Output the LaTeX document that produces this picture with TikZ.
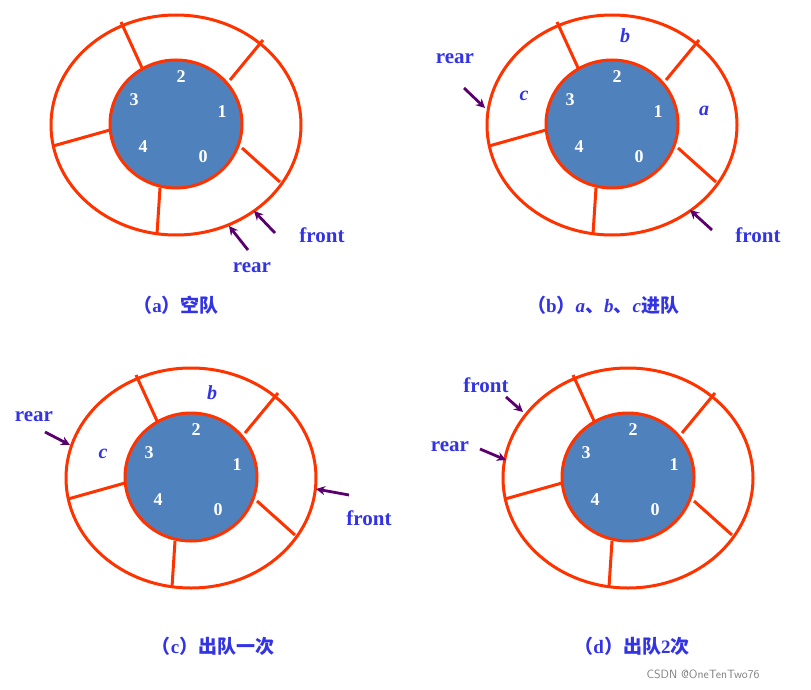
\documentclass[tikz,border=0pt]{standalone}
\usepackage{fontspec}
\setmainfont{Liberation Serif}
\newfontfamily\cjk{Noto Sans CJK SC}
\usetikzlibrary{arrows.meta}
\definecolor{ring}{RGB}{255,51,0}
\definecolor{disc}{RGB}{79,129,189}
\definecolor{txt}{RGB}{51,51,230}
\definecolor{arr}{RGB}{90,0,110}
\begin{document}
\begin{tikzpicture}[x=1pt,y=-1pt,
 ringst/.style={draw=ring,line width=3pt},
 num/.style={text=white,font=\bfseries\fontsize{18}{18}\selectfont},
 lab/.style={text=txt,font=\bfseries\itshape\fontsize{20}{20}\selectfont},
 ptr/.style={text=txt,font=\bfseries\fontsize{21}{21}\selectfont},
 captn/.style={text=txt,font=\bfseries\fontsize{19}{19}\selectfont},
 pa/.style={draw=arr,line width=2.8pt,-{Stealth[length=9pt,width=9pt]}}]
\useasboundingbox (0,0) rectangle (811,690);
\newcommand\qpanel[2]{%
 \begin{scope}[shift={(#1,#2)}]
 \draw[ringst] (176,125) ellipse [x radius=125, y radius=110];
 \draw[ringst] (121,22) -- (143,70) (230,80) -- (263,40) (242,148) -- (280,182)
   (160,188) -- (157,234) (110,130) -- (53,146);
 \draw[ringst,fill=disc] (176,124) ellipse [x radius=66, y radius=64];
 \node[num] at (181,77) {2}; \node[num] at (222,112) {1};
 \node[num] at (134,100) {3}; \node[num] at (143,147) {4};
 \node[num] at (203,157) {0};
 \end{scope}}
\qpanel{0}{0}\qpanel{436}{0}\qpanel{15}{353}\qpanel{452}{353}
% (a)
\node[ptr] (fa) at (322,235) {front};
\coordinate (fat) at (254,211); \draw[pa] (275,233) -- (fat);
\node[ptr] (ra) at (252,268) {rear};
\coordinate (rat) at (229,226); \draw[pa] (248,250) -- (rat);
\node[captn] (ca) at (176,305) {{\cjk （}a{\cjk ）空队}};
% (b)
\node[lab] at (625,36) {b}; \node[lab] at (704,111) {a}; \node[lab] at (524,96) {c};
\node[ptr] (rb) at (455,59) {rear};
\coordinate (rbt) at (485,108); \draw[pa] (464,88) -- (rbt);
\node[ptr] (fb) at (758,235) {front};
\coordinate (fbt) at (690,210); \draw[pa] (712,230) -- (fbt);
\node[captn] (cb) at (603,305) {{\cjk （}b{\cjk ）}\textit{a}{\cjk 、}\textit{b}{\cjk 、}\textit{c}{\cjk 进队}};
% (c)
\node[lab] at (212,393) {b}; \node[lab] at (103,454) {c};
\node[ptr] (rc) at (34,417) {rear};
\coordinate (rct) at (70,445); \draw[pa] (45,432) -- (rct);
\node[ptr] (fc) at (369,518) {front};
\coordinate (fct) at (316,489); \draw[pa] (349,495) -- (fct);
\node[captn] (cc) at (213,646) {{\cjk （}c{\cjk ）出队一次}};
% (d)
\node[ptr] (fd) at (486,385) {front};
\coordinate (fdt) at (523,412); \draw[pa] (506,397) -- (fdt);
\node[ptr] (rd) at (450,447) {rear};
\coordinate (rdt) at (506,460); \draw[pa] (480,449) -- (rdt);
\node[captn] (cd) at (632,646) {{\cjk （}d{\cjk ）出队}2{\cjk 次}};
\node[text=gray,font=\sffamily\fontsize{12}{12}\selectfont] (wm) at (703,674) {CSDN @OneTenTwo76};
\end{tikzpicture}
\end{document}
